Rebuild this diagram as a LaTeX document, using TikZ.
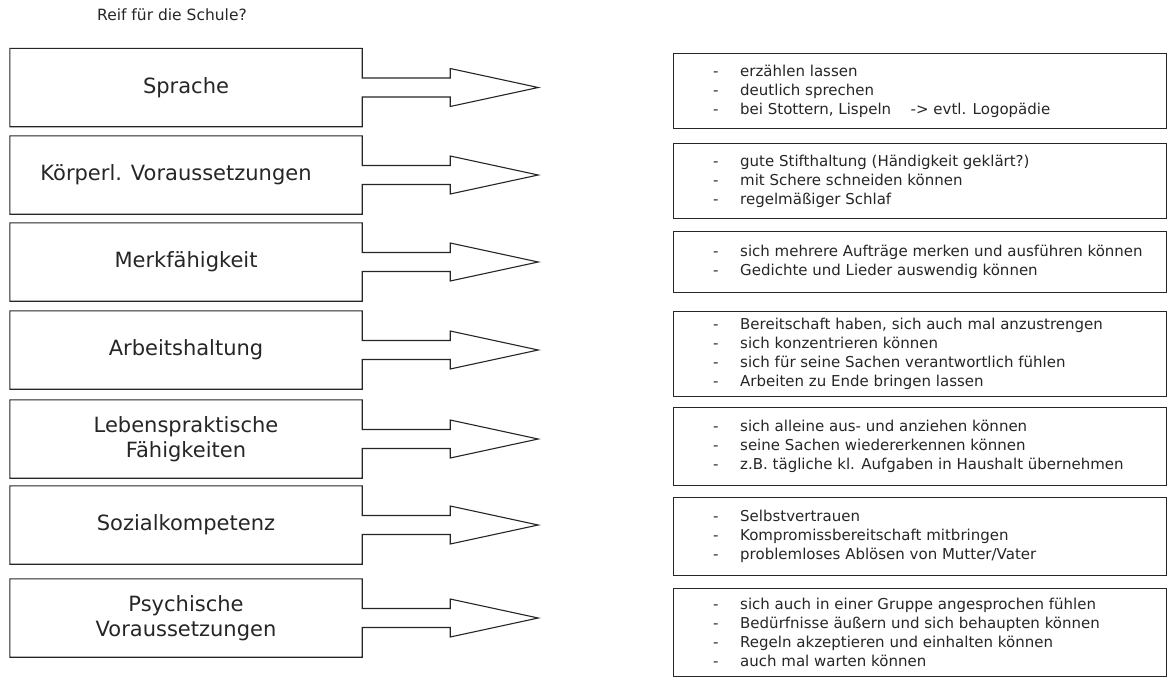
\documentclass[tikz,border=0pt]{standalone}
\usepackage{fontspec}
\setmainfont{DejaVu Sans}
\usetikzlibrary{calc}
\definecolor{ink}{HTML}{262626}
\newcommand{\dl}{\makebox[27pt][l]{-}}
\begin{document}
\begin{tikzpicture}[x=1pt,y=-1pt,
  leftbox/.style={minimum width=352pt, minimum height=78pt, inner sep=0pt, align=center,
    font=\fontsize{21}{25}\selectfont, text=ink},
  outline/.style={draw=ink, line width=1.1pt, line join=miter},
  rightbox/.style={draw=ink, line width=1pt, anchor=north west, inner sep=0pt, minimum width=493pt},
  righttext/.style={anchor=west, inner sep=0pt, align=left, text=ink, font=\fontsize{15}{19}\selectfont},
  titletext/.style={anchor=west, inner sep=0pt, text=ink, font=\fontsize{15.5}{18}\selectfont}]
\useasboundingbox[fill=white] (0,0) rectangle (1167,678);

\node[titletext] (title) at (97,15) {Reif für die Schule?};

% left boxes
\node[leftbox] (L1) at (186,87.5) {Sprache};
\node[leftbox] (L2) at (186,175) {\hspace*{-20pt}Körperl. Voraussetzungen};
\node[leftbox] (L3) at (186,262) {Merkfähigkeit};
\node[leftbox] (L4) at (186,350) {Arbeitshaltung};
\node[leftbox] (L5) at (186,439) {Lebenspraktische\\Fähigkeiten};
\node[leftbox] (L6) at (186,525) {Sozialkompetenz};
\node[leftbox] (L7) at (186,618) {Psychische\\Voraussetzungen};

\foreach \i in {1,...,7}{
  \draw[outline] (L\i.north east) -- (L\i.north west) -- (L\i.south west) -- (L\i.south east)
    -- ($(L\i.east)+(0,9.5)$) -- ($(L\i.east)+(88,9.5)$) -- ($(L\i.east)+(88,19)$)
    -- ($(L\i.east)+(176,0)$) -- ($(L\i.east)+(88,-19)$) -- ($(L\i.east)+(88,-9.5)$)
    -- ($(L\i.east)+(0,-9.5)$) -- cycle;
}

% right boxes
\node[rightbox, minimum height=75pt] (R1) at (673,53) {};
\node[rightbox, minimum height=75pt] (R2) at (673,143) {};
\node[rightbox, minimum height=61pt] (R3) at (673,231) {};
\node[rightbox, minimum height=85pt] (R4) at (673,311) {};
\node[rightbox, minimum height=78pt] (R5) at (673,407) {};
\node[rightbox, minimum height=78pt] (R6) at (673,497) {};
\node[rightbox, minimum height=88pt] (R7) at (673,588) {};

\node[righttext] (T1) at ($(R1.west)+(40,0)$) {\dl erzählen lassen\\\dl deutlich sprechen\\\dl bei Stottern, Lispeln\hspace{1.3em}-> evtl. Logopädie};
\node[righttext] (T2) at ($(R2.west)+(40,0)$) {\dl gute Stifthaltung (Händigkeit geklärt?)\\\dl mit Schere schneiden können\\\dl regelmäßiger Schlaf};
\node[righttext] (T3) at ($(R3.west)+(40,0)$) {\dl sich mehrere Aufträge merken und ausführen können\\\dl Gedichte und Lieder auswendig können};
\node[righttext] (T4) at ($(R4.west)+(40,0)$) {\dl Bereitschaft haben, sich auch mal anzustrengen\\\dl sich konzentrieren können\\\dl sich für seine Sachen verantwortlich fühlen\\\dl Arbeiten zu Ende bringen lassen};
\node[righttext] (T5) at ($(R5.west)+(40,0)$) {\dl sich alleine aus- und anziehen können\\\dl seine Sachen wiedererkennen können\\\dl z.B. tägliche kl. Aufgaben in Haushalt übernehmen};
\node[righttext] (T6) at ($(R6.west)+(40,0)$) {\dl Selbstvertrauen\\\dl Kompromissbereitschaft mitbringen\\\dl problemloses Ablösen von Mutter/Vater};
\node[righttext] (T7) at ($(R7.west)+(40,0)$) {\dl sich auch in einer Gruppe angesprochen fühlen\\\dl Bedürfnisse äußern und sich behaupten können\\\dl Regeln akzeptieren und einhalten können\\\dl auch mal warten können};
\end{tikzpicture}
\end{document}
